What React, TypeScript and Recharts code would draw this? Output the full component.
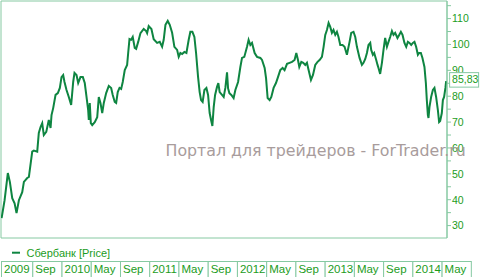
import { LineChart, Line, XAxis, YAxis, ReferenceArea } from 'recharts'

// fractional years (2010.5 = mid 2010)
const dates = [
  2009.317, 2009.351, 2009.388, 2009.411, 2009.438, 2009.465, 2009.487, 2009.514, 2009.552, 2009.571,
  2009.609, 2009.628, 2009.666, 2009.684, 2009.723, 2009.741, 2009.761, 2009.78, 2009.798, 2009.826,
  2009.855, 2009.875, 2009.886, 2009.905, 2009.932, 2009.958, 2009.981, 2010.0, 2010.019, 2010.034,
  2010.057, 2010.083, 2010.11, 2010.133, 2010.148, 2010.171, 2010.19, 2010.216, 2010.243, 2010.265,
  2010.285, 2010.304, 2010.311, 2010.322, 2010.334, 2010.35, 2010.379, 2010.407, 2010.425, 2010.444,
  2010.464, 2010.482, 2010.509, 2010.539, 2010.566, 2010.584, 2010.607, 2010.623, 2010.641, 2010.661,
  2010.68, 2010.698, 2010.721, 2010.748, 2010.76, 2010.775, 2010.794, 2010.812, 2010.835, 2010.851,
  2010.874, 2010.9, 2010.937, 2010.965, 2010.976, 2010.994, 2011.025, 2011.051, 2011.09, 2011.12,
  2011.147, 2011.165, 2011.185, 2011.211, 2011.234, 2011.261, 2011.287, 2011.318, 2011.336, 2011.355,
  2011.375, 2011.401, 2011.424, 2011.45, 2011.469, 2011.492, 2011.515, 2011.534, 2011.557, 2011.575,
  2011.591, 2011.609, 2011.629, 2011.652, 2011.671, 2011.689, 2011.705, 2011.72, 2011.735, 2011.751,
  2011.773, 2011.788, 2011.803, 2011.83, 2011.849, 2011.868, 2011.887, 2011.899, 2011.914, 2011.936,
  2011.962, 2011.982, 2012.013, 2012.039, 2012.058, 2012.084, 2012.115, 2012.133, 2012.153, 2012.172,
  2012.202, 2012.229, 2012.267, 2012.286, 2012.316, 2012.332, 2012.35, 2012.373, 2012.392, 2012.418,
  2012.445, 2012.468, 2012.494, 2012.521, 2012.543, 2012.571, 2012.6, 2012.628, 2012.657, 2012.677,
  2012.696, 2012.711, 2012.734, 2012.756, 2012.779, 2012.798, 2012.817, 2012.844, 2012.867, 2012.893,
  2012.919, 2012.942, 2012.969, 2012.988, 2013.007, 2013.026, 2013.045, 2013.064, 2013.083, 2013.101,
  2013.121, 2013.14, 2013.158, 2013.178, 2013.204, 2013.227, 2013.254, 2013.284, 2013.303, 2013.329,
  2013.349, 2013.368, 2013.398, 2013.425, 2013.443, 2013.463, 2013.482, 2013.5, 2013.52, 2013.531,
  2013.55, 2013.565, 2013.588, 2013.603, 2013.614, 2013.633, 2013.653, 2013.671, 2013.69, 2013.71,
  2013.728, 2013.747, 2013.767, 2013.785, 2013.804, 2013.83, 2013.85, 2013.869, 2013.888, 2013.91,
  2013.93, 2013.949, 2013.967, 2013.987, 2014.006, 2014.024, 2014.043, 2014.063, 2014.078, 2014.097,
  2014.115, 2014.138, 2014.154, 2014.165, 2014.177, 2014.184, 2014.195, 2014.214, 2014.234, 2014.252,
  2014.271, 2014.291, 2014.305, 2014.317, 2014.336, 2014.348, 2014.362, 2014.377, 2014.385,
]

const prices = [
  32.9, 39.8, 50.3, 46.9, 40.6, 38.6, 34.8, 39.8, 42.9, 46.9,
  48.4, 48.8, 58.6, 59, 58.6, 65.8, 68.1, 69.6, 65, 66.2,
  70.8, 67.7, 72.7, 75.4, 80.5, 81.2, 83.2, 87.4, 88.2, 85.5,
  82.4, 79.7, 76.6, 85.5, 89, 88.2, 85.1, 87.4, 87.4, 85.1,
  79.7, 74.6, 70.8, 77.4, 69.6, 68.8, 70.0, 71.9, 79.7, 77.4,
  73.5, 77.4, 81.2, 84, 83.2, 80.5, 77.8, 77.4, 81.6, 83.2,
  82.8, 85.5, 90.1, 92.1, 96.7, 102.1, 101.8, 102.9, 98.7, 98.3,
  101, 104.4, 106, 105.2, 104.4, 107.1, 106, 102, 100.6, 101,
  99.1, 101.8, 107.6, 109.1, 107.6, 104.5, 99.1, 97.9, 95.2, 96.7,
  96.3, 97.1, 96.7, 101.8, 104.9, 104.9, 102.9, 96.7, 87.4, 81.6,
  78.5, 77.8, 82.4, 83.2, 80.5, 73.5, 70.8, 68.5, 75.8, 80.5,
  83.6, 85.1, 81.6, 80.5, 79.7, 83.2, 89.2, 83, 81.2, 80.5,
  79.3, 82.4, 85.5, 91.3, 94.8, 95.2, 99.1, 101.8, 99.8, 100.6,
  96.7, 95.2, 94.8, 94, 90.9, 87, 79.3, 78.5, 79.7, 83.2,
  85.1, 87.4, 90.1, 90.9, 90.1, 92.5, 92.9, 93.3, 94, 96.7,
  94, 91.3, 93.3, 92.9, 92.1, 92.9, 90.1, 86.3, 88.2, 92.1,
  93.3, 94, 95.2, 99.1, 103.7, 105.6, 108.3, 106.8, 104.5, 105.6,
  103.7, 104.9, 102.9, 99.8, 99.8, 99.1, 96, 101, 104.5, 104.9,
  102.9, 99.1, 94.8, 92.1, 92.9, 94.4, 96.7, 99.8, 100.6, 97.9,
  96, 96.7, 94, 92.1, 90.9, 88.6, 92.9, 97.9, 102.5, 99.1,
  101, 102.9, 105.2, 103.7, 104.5, 102.5, 103.7, 104.9, 103.7, 100.6,
  99.1, 101, 100.6, 99.8, 100.6, 101, 99.1, 96, 96.7, 96.7,
  94.8, 91.3, 85.1, 78.5, 72.7, 71.6, 75.8, 79.7, 82.4, 83.2,
  79.7, 74.6, 70, 70.4, 73.5, 78.5, 79.7, 83.2, 85.83,
]

const xDomain = [2009.31, 2014.395]
const xTicks = [
  2009.31, 2009 + 8 / 12, 2010, 2010 + 4 / 12, 2010 + 8 / 12, 2011, 2011 + 4 / 12, 2011 + 8 / 12,
  2012, 2012 + 4 / 12, 2012 + 8 / 12, 2013, 2013 + 4 / 12, 2013 + 8 / 12, 2014, 2014 + 4 / 12,
]
const xTickLabels = [
  '2009', 'Sep', '2010', 'May', 'Sep', '2011', 'May', 'Sep',
  '2012', 'May', 'Sep', '2013', 'May', 'Sep', '2014', 'May',
]
const yDomain = [25.2, 116.8]
const yTicks = [30, 35, 40, 45, 50, 55, 60, 65, 70, 75, 80, 85, 90, 95, 100, 105, 110, 115]

const seriesName = 'Сбербанк [Price]'
const watermark = 'Портал для трейдеров - ForTrader.ru'

const data = dates.map((d, i) => ({ date: d, price: prices[i] }))

const W = 481
const H = 277
const Y_AXIS_W = 34
const PLOT_W = W - 1 - Y_AXIS_W
const PX_PER_YEAR = PLOT_W / (xDomain[1] - xDomain[0])

const LINE = '#0e8541'
const TEXT = '#1c9c1c'
const FRAME = '#86c9a2'
const FONT = '"Liberation Sans", Arial, sans-serif'

const XTick = (props: any) => {
  const { x, y, payload } = props
  const i = xTicks.indexOf(payload.value)
  const next = i < xTicks.length - 1 ? xTicks[i + 1] : payload.value + 4 / 12
  const w = (next - payload.value) * PX_PER_YEAR
  return (
    <g>
      <rect x={x + 0.5} y={y + 23.5} width={w} height={17} fill="#fff" stroke={FRAME} />
      <text x={x + 3} y={y + 35} fontSize={11.5} fill={TEXT} fontFamily={FONT}>
        {xTickLabels[i]}
      </text>
    </g>
  )
}

const YTick = (props: any) => {
  const { x, y, payload } = props
  if (payload.value % 10 !== 0) return <g />
  return (
    <text x={x} y={y} dy={3.8} fontSize={10.5} fill={TEXT} fontFamily={FONT}>
      {payload.value}
    </text>
  )
}

const LastValue = (props: any) => {
  const { x, y, index, value } = props
  if (index !== prices.length - 1) return <g />
  return (
    <g>
      <rect x={x + 3.5} y={y - 8.5} width={29} height={14.5} fill="#fff" stroke={FRAME} />
      <text x={x + 6} y={y + 2.3} fontSize={10.5} fill={TEXT} fontFamily={FONT}>
        {Number(value).toFixed(2).replace('.', ',')}
      </text>
    </g>
  )
}

export default function App() {
  return (
    <div style={{ position: 'absolute', left: 0, top: 0, width: W, height: H, background: '#fff', fontFamily: FONT }}>
      <LineChart width={W} height={H} data={data} margin={{ top: 1, right: 0, bottom: 0, left: 1 }}>
        <ReferenceArea
          x1={xDomain[0]}
          x2={xDomain[1]}
          y1={yDomain[0]}
          y2={yDomain[1]}
          fill="none"
          stroke={FRAME}
          strokeOpacity={1}
        />
        <XAxis
          dataKey="date"
          type="number"
          domain={xDomain}
          ticks={xTicks}
          interval={0}
          allowDataOverflow
          height={H - 1 - 237}
          axisLine={false}
          tickLine={false}
          tickSize={0}
          tickMargin={0}
          tick={<XTick />}
        />
        <YAxis
          orientation="right"
          type="number"
          domain={yDomain}
          ticks={yTicks}
          interval={0}
          allowDataOverflow
          width={Y_AXIS_W}
          axisLine={{ stroke: FRAME }}
          tickLine={{ stroke: FRAME }}
          tickSize={4}
          tickMargin={1}
          tick={<YTick />}
        />
        <Line
          type="linear"
          dataKey="price"
          name={seriesName}
          stroke={LINE}
          strokeWidth={2}
          dot={false}
          isAnimationActive={false}
          label={<LastValue />}
        />
      </LineChart>
      <svg width={W} height={H} style={{ position: 'absolute', left: 0, top: 0, pointerEvents: 'none' }}>
        <text x={165.5} y={155.7} fontSize={15.8} fill="#a89c9c" fontFamily='"DejaVu Sans", sans-serif'>
          {watermark}
        </text>
        <line x1={12} x2={20} y1={252.7} y2={252.7} stroke={LINE} strokeWidth={2} />
        <text x={26.5} y={256.7} fontSize={11} fill={TEXT} fontFamily={FONT}>
          {seriesName}
        </text>
      </svg>
    </div>
  )
}
